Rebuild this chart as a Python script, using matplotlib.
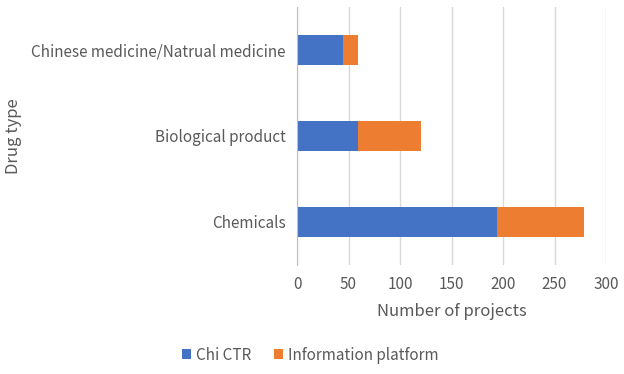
import matplotlib
matplotlib.use("Agg")
import matplotlib.pyplot as plt

categories = ["Chemicals", "Biological product", "Chinese medicine/Natrual medicine"]
chi_ctr = [194, 59, 45]
info_platform = [85, 61, 14]
xticks = [0, 50, 100, 150, 200, 250, 300]

plt.rcParams['font.family'] = ['Noto Sans CJK SC', 'DejaVu Sans']
txt = '#595959'

fig = plt.figure(figsize=(6.24, 3.74), dpi=100)
ax = fig.add_axes([297/624, 1-265/374, (606-297)/624, 258/374])

y = list(range(len(categories)))
ax.barh(y, chi_ctr, height=0.34, color='#4472C4', label='Chi CTR', zorder=3)
ax.barh(y, info_platform, left=chi_ctr, height=0.34, color='#ED7D31', label='Information platform', zorder=3)

ax.set_xlim(0, 300)
ax.set_ylim(-0.5, 2.5)
ax.set_xticks(xticks)
ax.set_xticklabels([str(v) for v in xticks], fontsize=11, color=txt)
ax.set_yticks(y)
ax.set_yticklabels(categories, fontsize=11, color=txt)
ax.tick_params(axis='both', length=0, pad=8)
ax.grid(axis='x', color='#d9d9d9', linewidth=1, zorder=0)
for s in ['top', 'right', 'bottom']:
    ax.spines[s].set_visible(False)
ax.spines['left'].set_color('#bfbfbf')
ax.spines['left'].set_zorder(4)

ax.set_xlabel('Number of projects', fontsize=12, color=txt, labelpad=7)
fig.text(13/624, 1-136/374, 'Drug type', rotation=90, fontsize=12, color=txt, ha='center', va='center')

fig.legend(loc='center', bbox_to_anchor=(310/624, 1-355/374), ncol=2, frameon=False,
           fontsize=11, labelcolor=txt, handlelength=0.6, handleheight=0.6,
           handletextpad=0.3, columnspacing=1.5)

fig.savefig('out.png', dpi=100)
